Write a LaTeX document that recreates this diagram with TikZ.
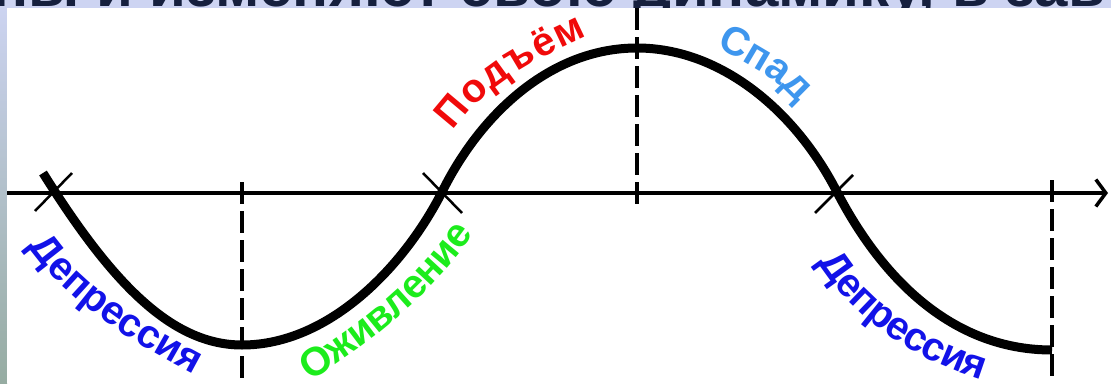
\documentclass[tikz,border=0pt]{standalone}
\usepackage{fontspec}
\usetikzlibrary{arrows.meta,decorations.text}

\newfontfamily\lblfam{Liberation Sans}
\newcommand{\lblfont}{\lblfam\bfseries\fontsize{40}{44}\selectfont}
\newcommand{\ttlfont}{\lblfam\bfseries\fontsize{60}{66}\selectfont}

\definecolor{stripblue}{RGB}{205,212,242}
\definecolor{stripgrey}{RGB}{150,172,162}
\definecolor{titlenavy}{RGB}{22,32,62}
\definecolor{deprblue}{RGB}{18,18,232}
\definecolor{revivgreen}{RGB}{28,236,28}
\definecolor{risered}{RGB}{240,10,10}
\definecolor{fallblue}{RGB}{62,150,238}

\tikzset{
    axisline/.style = {line width=3.5pt, -{Straight Barb[length=10pt,width=27pt]}},
    phaseline/.style = {line width=3.5pt, dash pattern=on 22pt off 7pt},
    crossmark/.style = {line width=2.5pt},
    cycleline/.style = {line width=9pt},
    phaselabel/.style 2 args = {decorate, decoration={text effects along path, text={#2},
        text effects/.cd, fit text to path, characters={text along path, font=\lblfont, text=#1}}}
}

\begin{document}
\begin{tikzpicture}[x=1pt, y=-1pt]
    \useasboundingbox (0,0) rectangle (1111,383);

    % Slide background and cut title
    \shade[top color=stripblue, bottom color=stripgrey] (0,0) rectangle (7,383);
    \fill[stripblue] (7,0) rectangle (1111,8);
    \node[anchor=base west, inner sep=0pt, text=titlenavy, font=\ttlfont] (title) at (-8,6) {ны и изменяют свою динамику, в зав};
    \fill[white] (7,8) rectangle (1111,383);

    % Key points of the cycle
    \coordinate (start) at (43,173);
    \coordinate (cross1) at (53,192);
    \coordinate (trough1) at (242,345);
    \coordinate (cross2) at (442,192);
    \coordinate (peak) at (637,48);
    \coordinate (cross3) at (837,192);
    \coordinate (trough2) at (1052,350);

    % Time axis
    \coordinate (origin) at (7,193);
    \coordinate (axisend) at (1108,193);
    \draw[axisline] (origin) -- (axisend);

    % Phase borders
    \draw[phaseline] (242,182) -- (242,383);
    \draw[phaseline] (637,8) -- (637,210);
    \draw[phaseline] (1052,180) -- (1052,383);

    % Cycle curve
    \draw[cycleline] (start) .. controls (110,280) and (170,345) .. (trough1)
        .. controls (330,345) and (405,265) .. (cross2)
        .. controls (480,115) and (550,48) .. (peak)
        .. controls (720,48) and (795,110) .. (cross3)
        .. controls (880,275) and (950,350) .. (trough2);

    % Marks at the axis crossings
    \draw[crossmark] (cross1) ++(-18,19) -- ++(37,-38);
    \draw[crossmark] (cross2) ++(-19,-19) -- ++(39,40);
    \draw[crossmark] (cross3) ++(-22,21) -- ++(38,-38);

    % Phase names
    \path[phaselabel={deprblue}{Депрессия}] (28,246) .. controls (68,303) and (130,341) .. (194,375);
    \path[phaselabel={revivgreen}{Оживление}] (310,381) .. controls (375,340) and (430,296) .. (474,234);
    \path[phaselabel={risered}{Подъём}] (453,131) .. controls (486,85) and (535,60) .. (587,36);
    \path[phaselabel={fallblue}{Спад}] (716,48) .. controls (746,62) and (776,78) .. (798,104);
    \path[phaselabel={deprblue}{Депрессия}] (818,262) .. controls (852,315) and (905,356) .. (982,380);
\end{tikzpicture}
\end{document}
